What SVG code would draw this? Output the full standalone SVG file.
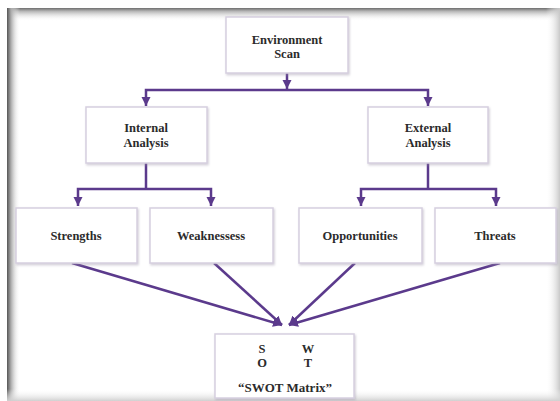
<svg xmlns="http://www.w3.org/2000/svg" width="560" height="401" viewBox="0 0 560 401">
<defs>
<style>
.box{fill:#fff;stroke:#d6cfdf;stroke-width:1.5;filter:url(#sh)}
.t{font-family:"Liberation Serif","Times New Roman",serif;font-weight:bold;font-size:12.5px;fill:#2b2b2b;text-anchor:middle}
.c{fill:none;stroke:#5b3a8c;stroke-width:2.5}
.a{marker-end:url(#ah)}
</style>
<marker id="ah" markerUnits="userSpaceOnUse" markerWidth="10" markerHeight="10" refX="9" refY="4.5" orient="auto">
<path d="M0,0 L9,4.5 L0,9 z" fill="#5b3a8c"/>
</marker>
<filter id="sh" x="-10%" y="-10%" width="125%" height="130%">
<feDropShadow dx="1" dy="1.5" stdDeviation="1.2" flood-color="#9a90a8" flood-opacity="0.45"/>
</filter>
<linearGradient id="gTop" x1="0" y1="0" x2="0" y2="1">
<stop offset="0" stop-color="#6e6e6e"/>
<stop offset="0.25" stop-color="#b5b5b5"/>
<stop offset="1" stop-color="#fff" stop-opacity="0"/>
</linearGradient>
<linearGradient id="gLeft" x1="0" y1="0" x2="1" y2="0">
<stop offset="0" stop-color="#555"/>
<stop offset="0.3" stop-color="#aaa"/>
<stop offset="1" stop-color="#fff" stop-opacity="0"/>
</linearGradient>
<linearGradient id="gRight" x1="0" y1="0" x2="1" y2="0">
<stop offset="0" stop-color="#fff" stop-opacity="0"/>
<stop offset="1" stop-color="#c8c8c8"/>
</linearGradient>
<linearGradient id="gBot" x1="0" y1="0" x2="0" y2="1">
<stop offset="0" stop-color="#fff" stop-opacity="0"/>
<stop offset="1" stop-color="#d0d0d0"/>
</linearGradient>
</defs>
<rect x="0" y="0" width="560" height="401" fill="#fff"/>
<g id="frame">
<rect x="7" y="8" width="553" height="13" fill="url(#gTop)"/>
<rect x="7" y="8" width="13" height="393" fill="url(#gLeft)"/>
<rect x="546" y="8" width="14" height="393" fill="url(#gRight)"/>
<rect x="7" y="389" width="553" height="12" fill="url(#gBot)"/>
</g>
<g id="connectors">
<path class="c a" d="M287,73 V89"/>
<path class="c a" d="M287,90 H146 V106"/>
<path class="c a" d="M287,90 H428 V106"/>
<path class="c" d="M146,163 V189"/>
<path class="c a" d="M146,189 H78 V206"/>
<path class="c a" d="M146,189 H211 V206"/>
<path class="c" d="M428,163 V189"/>
<path class="c a" d="M428,189 H361 V206"/>
<path class="c a" d="M428,189 H496 V206"/>
<path class="c a" d="M72,263 L282,325"/>
<path class="c a" d="M214,263 L282,325"/>
<path class="c a" d="M355,263 L289,325"/>
<path class="c a" d="M500,263 L289,325"/>
</g>
<g id="env">
<rect class="box" x="226" y="17" width="122" height="56"/>
<text class="t" x="287" y="44">Environment</text>
<text class="t" x="287" y="58">Scan</text>
</g>
<g id="internal">
<rect class="box" x="86" y="107" width="121" height="56"/>
<text class="t" x="146" y="132">Internal</text>
<text class="t" x="146" y="147">Analysis</text>
</g>
<g id="external">
<rect class="box" x="368" y="107" width="120" height="56"/>
<text class="t" x="428" y="132">External</text>
<text class="t" x="428" y="147">Analysis</text>
</g>
<g id="strengths">
<rect class="box" x="16" y="208" width="121" height="55"/>
<text class="t" x="76" y="240">Strengths</text>
</g>
<g id="weaknesses">
<rect class="box" x="150" y="208" width="123" height="55"/>
<text class="t" x="211" y="240">Weaknessess</text>
</g>
<g id="opportunities">
<rect class="box" x="299" y="208" width="123" height="55"/>
<text class="t" x="360" y="240">Opportunities</text>
</g>
<g id="threats">
<rect class="box" x="435" y="208" width="121" height="55"/>
<text class="t" x="495" y="240">Threats</text>
</g>
<g id="swot">
<rect class="box" x="215" y="334" width="139" height="64"/>
<text class="t" x="262" y="353">S</text>
<text class="t" x="308" y="353">W</text>
<text class="t" x="262" y="367">O</text>
<text class="t" x="308" y="367">T</text>
<text class="t" x="285" y="392" style="font-size:13px">“SWOT Matrix”</text>
</g>
</svg>
